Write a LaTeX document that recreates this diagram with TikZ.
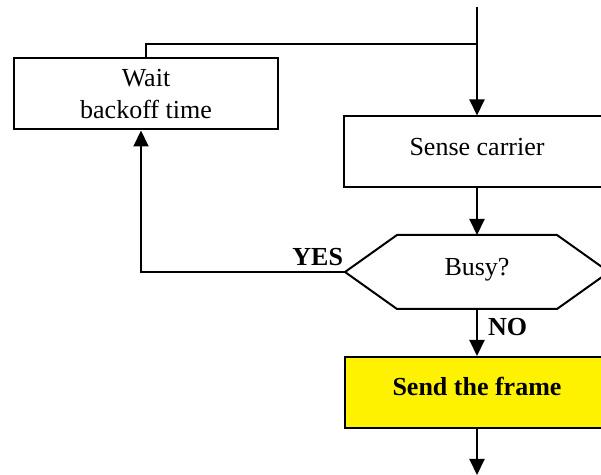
\documentclass[tikz,border=0pt]{standalone}
\usepackage{fontspec}
\setmainfont{Liberation Serif}
\usepackage{tikz}
\usetikzlibrary{calc, arrows.meta}
\tikzset{%
	flow/.style={line width=1pt, -{Triangle[length=8pt, width=7.5pt]}}
}

\begin{document}
\begin{tikzpicture}[x=0.5pt, y=-0.5pt, line width=1pt, font=\fontsize{13}{15.8}\selectfont,
		box/.style={draw, rectangle, inner sep=0pt, minimum width=132pt, minimum height=35.5pt, name=#1},
		onerow/.style={text height=9pt, text depth=5.6pt},
		hexa/.style={rectangle, inner sep=0pt, minimum width=131pt, minimum height=36pt, name=#1}]
				\useasboundingbox (0, 0) rectangle (601, 475);
				\clip (0, 0) rectangle (601, 475);
				\coordinate (in) at (477, 7);
				\coordinate (J) at (477, 44);
				\coordinate (L) at (141, 272);
				\coordinate (out) at (477, 475);
				\node [box=wait, align=center] at (146, 94) {Wait\\backoff time};
				\node [box=sense, onerow, minimum width=133pt] at (477, 152) {Sense carrier};
				\node [hexa=busy, onerow] at (477, 272) {Busy?};
				\draw (busy.west) -- ($(busy.north west)+(52, 0)$) -- ($(busy.north east)+(-52, 0)$) -- (busy.east)
					-- ($(busy.south east)+(-52, 0)$) -- ($(busy.south west)+(52, 0)$) -- cycle;
				\node [box=send, onerow, fill=yellow, font=\fontsize{13}{15.8}\selectfont\bfseries] at (477, 392.5) {Send the frame};
				\node [anchor=base east, inner sep=0pt, font=\fontsize{13}{15.8}\selectfont\bfseries] at (344, 266) {YES};
				\node [anchor=base west, inner sep=0pt, font=\fontsize{13}{15.8}\selectfont\bfseries] at (487, 336) {NO};
				\draw [flow] (in) -- (sense);
				\draw (J) -| (wait);
				\draw [flow] (sense) -- (busy);
				\draw [flow] (busy) -- (send);
				\draw [flow] (busy.west) -- (L) -- (L |- wait.south);
				\draw [flow] (send) -- (out);
			\end{tikzpicture}
\end{document}
